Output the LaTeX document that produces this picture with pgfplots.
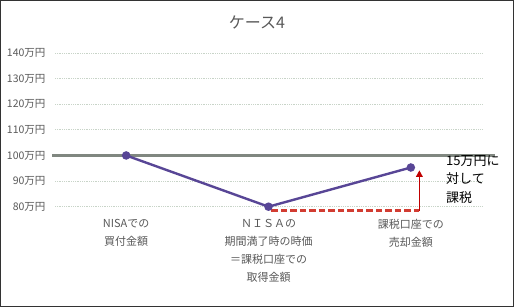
\documentclass[border=0pt]{standalone}
\usepackage{fontspec}
\setmainfont{Noto Sans CJK JP}
\usepackage{pgfplots}
\pgfplotsset{compat=1.18}
\usetikzlibrary{arrows.meta}
\definecolor{txtgray}{RGB}{89,89,89}
\definecolor{gridc}{RGB}{200,212,200}
\definecolor{purp}{RGB}{88,70,150}
\definecolor{redd}{RGB}{210,60,50}
\definecolor{arrowred}{RGB}{192,0,0}
\definecolor{refgray}{RGB}{128,135,128}
\begin{document}
\begin{tikzpicture}
\path[use as bounding box] (0pt,0pt) rectangle (514pt,307pt);
\draw[line width=1pt, black!80] (0.5pt,0.5pt) rectangle (513.5pt,306.5pt);
\node[text=txtgray, font=\fontsize{16}{18}\selectfont] at (257pt,285pt) {ケース4};
\begin{axis}[
  at={(55pt,100.3pt)}, anchor=south west,
  scale only axis, width=427pt, height=153.7pt,
  xmin=-0.5, xmax=2.5, ymin=80, ymax=140,
  ytick={80,90,...,140},
  xtick={0,1,2},
  xticklabels={{NISAでの\\買付金額},{ＮＩＳＡの\\期間満了時の時価\\＝課税口座での\\取得金額},{課税口座での\\売却金額}},
  xticklabel style={align=center, text=txtgray, font=\fontsize{11}{18}\selectfont, yshift=-9pt},
  yticklabel={\pgfmathprintnumber{\tick}万円},
  yticklabel style={text=txtgray, font=\fontsize{10.5}{12}\selectfont, xshift=-6pt},
  /pgf/number format/assume math mode=true,
  axis line style={draw=none},
  major tick style={draw=none},
  ymajorgrids, grid style={gridc, line width=0.8pt, densely dotted},
  clip=false,
]
\addplot[refgray, line width=2.6pt] coordinates {(-0.52,100) (2.59,100)};
\addplot[redd, line width=2.6pt, dash pattern=on 6.5pt off 3pt] coordinates {(1.02,78.6) (2.06,78.6)};
\addplot[arrowred, line width=1.6pt, -{Triangle[length=6.5pt,width=6.5pt]}] coordinates {(2.06,78.2) (2.06,94.2)};
\addplot[purp, line width=2.4pt, mark=*, mark size=3pt, mark options={fill=purp}] coordinates {(0,100) (1,80) (2,95.3)};
\end{axis}
\node[anchor=north west, align=left, font=\fontsize{13}{18.5}\selectfont, inner sep=0pt] at (446pt,152pt) {15万円に\\対して\\課税};
\end{tikzpicture}
\end{document}
